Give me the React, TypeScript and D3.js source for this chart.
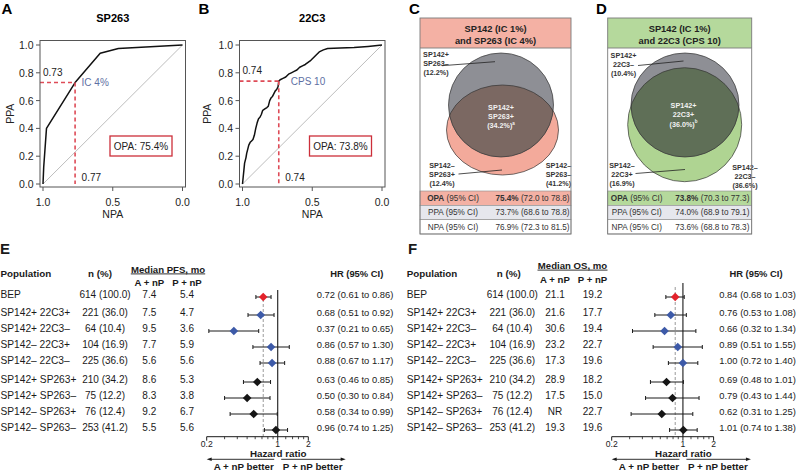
import React from "react";
import * as d3 from "d3";

const FONT = "'Liberation Sans', Arial, Helvetica, sans-serif";

// ---------- ROC data (NPA on x, PPA on y) ----------
const rocA_NPA = [1.0, 0.995, 0.975, 0.77, 0.59, 0.46, 0.0];
const rocA_PPA = [0.0, 0.12, 0.4, 0.73, 0.94, 0.975, 1.0];
const rocB_NPA = [1.0, 0.995, 0.99, 0.985, 0.975, 0.97, 0.96, 0.955, 0.945, 0.935, 0.925, 0.915, 0.905, 0.895, 0.885, 0.875, 0.865, 0.855, 0.84, 0.825, 0.815, 0.805, 0.795, 0.785, 0.775, 0.765, 0.755, 0.745, 0.74, 0.73, 0.71, 0.69, 0.67, 0.65, 0.63, 0.61, 0.59, 0.57, 0.55, 0.53, 0.51, 0.49, 0.47, 0.45, 0.42, 0.39, 0.3, 0.2, 0.1, 0.0];
const rocB_PPA = [0.0, 0.05, 0.1, 0.15, 0.19, 0.22, 0.26, 0.28, 0.3, 0.31, 0.32, 0.35, 0.4, 0.44, 0.47, 0.48, 0.5, 0.53, 0.54, 0.55, 0.56, 0.6, 0.62, 0.63, 0.65, 0.67, 0.68, 0.7, 0.74, 0.75, 0.76, 0.77, 0.79, 0.8, 0.81, 0.82, 0.84, 0.85, 0.86, 0.875, 0.89, 0.91, 0.93, 0.95, 0.965, 0.975, 0.978, 0.982, 0.99, 1.0];
const rocTicksY = [0, 0.2, 0.4, 0.6, 0.8, 1.0];
const rocTicksX = [1.0, 0.5, 0.0];

// ---------- Venn data ----------
const vennCTitle = ["SP142 (IC 1%)", "and SP263 (IC 4%)"];
const vennCRegions = [
  ["SP142+", "SP263–", "(12.2%)"],
  ["SP142+", "SP263+", "(34.2%)"],
  ["SP142–", "SP263+", "(12.4%)"],
  ["SP142–", "SP263–", "(41.2%)"],
];
const vennCStats = [
  ["OPA", "75.4%", "(72.0 to 78.8)"],
  ["PPA", "73.7%", "(68.6 to 78.8)"],
  ["NPA", "76.9%", "(72.3 to 81.5)"],
];
const vennDTitle = ["SP142 (IC 1%)", "and 22C3 (CPS 10)"];
const vennDRegions = [
  ["SP142+", "22C3–", "(10.4%)"],
  ["SP142+", "22C3+", "(36.0%)"],
  ["SP142–", "22C3+", "(16.9%)"],
  ["SP142–", "22C3–", "(36.6%)"],
];
const vennDStats = [
  ["OPA", "73.8%", "(70.3 to 77.3)"],
  ["PPA", "74.0%", "(68.9 to 79.1)"],
  ["NPA", "73.6%", "(68.8 to 78.3)"],
];

// ---------- Forest data ----------
const populations = ["BEP", "SP142+ 22C3+", "SP142+ 22C3–", "SP142– 22C3+", "SP142– 22C3–", "SP142+ SP263+", "SP142+ SP263–", "SP142– SP263+", "SP142– SP263–"];
const nPct = ["614 (100.0)", "221 (36.0)", "64 (10.4)", "104 (16.9)", "225 (36.6)", "210 (34.2)", "75 (12.2)", "76 (12.4)", "253 (41.2)"];
const rowGroup = ["bep", "22c3", "22c3", "22c3", "22c3", "sp263", "sp263", "sp263", "sp263"];
const pfsA = ["7.4", "7.5", "9.5", "7.7", "5.6", "8.6", "8.3", "9.2", "5.5"];
const pfsP = ["5.4", "4.7", "3.6", "5.9", "5.6", "5.3", "3.8", "6.7", "5.6"];
const pfsHR = [0.72, 0.68, 0.37, 0.86, 0.88, 0.63, 0.5, 0.58, 0.96];
const pfsLo = [0.61, 0.51, 0.21, 0.57, 0.67, 0.46, 0.3, 0.34, 0.74];
const pfsHi = [0.86, 0.92, 0.65, 1.3, 1.17, 0.85, 0.84, 0.99, 1.25];
const osA = ["21.1", "21.6", "30.6", "23.2", "17.3", "28.9", "17.5", "NR", "19.3"];
const osP = ["19.2", "17.7", "19.4", "22.7", "19.6", "18.2", "15.0", "22.7", "19.6"];
const osHR = [0.84, 0.76, 0.66, 0.89, 1.0, 0.69, 0.79, 0.62, 1.01];
const osLo = [0.68, 0.53, 0.32, 0.51, 0.72, 0.48, 0.43, 0.31, 0.74];
const osHi = [1.03, 1.08, 1.34, 1.55, 1.4, 1.01, 1.44, 1.25, 1.38];
const hrMajorTicks = [0.2, 1, 2];
const hrMinorTicks = [0.3, 0.4, 0.5, 0.6, 0.7, 0.8, 0.9, 1.2, 1.4, 1.6, 1.8];

const groupColor: Record<string, string> = { bep: "#e3222b", "22c3": "#3d5aa8", sp263: "#151515" };
const DASH_RED = "#de4b57";

function Roc(p: any) {
  const { ox, letter, letterX, title, npa, ppa, cutN, cutP, cutLabel, cutLabelDx, opa, ppaX } = p;
  const x = d3.scaleLinear().domain([1, 0]).range([ox + 3, ox + 142.5]);
  const y = d3.scaleLinear().domain([0, 1]).range([184, 45]);
  const pts: [number, number][] = npa.map((n: number, i: number) => [n, ppa[i]]);
  const line = d3.line<[number, number]>().x((d) => x(d[0])).y((d) => y(d[1]));
  const top = 40.5, bottom = 187, boxW = 145.5;
  const cx = ox + boxW / 2;
  return (
    <g fontFamily={FONT}>
      <text x={letterX} y={14} fontSize={15} fontWeight="bold">{letter}</text>
      <text x={cx} y={22} fontSize={11} fontWeight="bold" textAnchor="middle">{title}</text>
      <line x1={x(1)} y1={y(0)} x2={x(0)} y2={y(1)} stroke="#b5b5b5" strokeWidth={0.9} />
      <path d={line(pts) || ""} fill="none" stroke="#111" strokeWidth={1.5} strokeLinejoin="round" />
      <line x1={ox} y1={y(cutP)} x2={x(cutN)} y2={y(cutP)} stroke={DASH_RED} strokeWidth={1.6} strokeDasharray="4,3" />
      <line x1={x(cutN)} y1={y(cutP)} x2={x(cutN)} y2={y(0)} stroke={DASH_RED} strokeWidth={1.6} strokeDasharray="4,3" />
      <text x={ox + 3} y={y(cutP) - 7} fontSize={10} fill="#222">{cutP.toFixed(2)}</text>
      <text x={x(cutN) + cutLabelDx} y={y(cutP)} fontSize={10} fill="#5e6fa3" dominantBaseline="central">{cutLabel}</text>
      <text x={x(cutN) + 6.5} y={177} fontSize={10} fill="#222" dominantBaseline="central">{cutN.toFixed(2)}</text>
      <rect x={ox + 70} y={136} width={62} height={20} fill="white" stroke="#cc2f3a" strokeWidth={1.3} />
      <text x={ox + 101} y={146.5} fontSize={10} textAnchor="middle" dominantBaseline="central" fill="#222">{opa}</text>
      <rect x={ox} y={top} width={boxW} height={bottom - top} fill="none" stroke="#555" strokeWidth={1} />
      {rocTicksY.map((t) => (
        <g key={"y" + t}>
          <line x1={ox - 4} x2={ox} y1={y(t)} y2={y(t)} stroke="#555" />
          <text x={ox - 6.5} y={y(t)} fontSize={10.5} textAnchor="end" dominantBaseline="central" fill="#222">{t.toFixed(1)}</text>
        </g>
      ))}
      {rocTicksX.map((t) => (
        <g key={"x" + t}>
          <line x1={x(t)} x2={x(t)} y1={bottom} y2={bottom + 4} stroke="#555" />
          <text x={x(t)} y={201.5} fontSize={10.5} textAnchor="middle" dominantBaseline="central" fill="#222">{t.toFixed(1)}</text>
        </g>
      ))}
      <text transform={`translate(${ppaX},${(top + bottom) / 2}) rotate(-90)`} fontSize={10.5} textAnchor="middle" dominantBaseline="central" fill="#222">PPA</text>
      <text x={cx} y={214} fontSize={10.5} textAnchor="middle" dominantBaseline="central" fill="#222">NPA</text>
    </g>
  );
}

function Venn(p: any) {
  const { id, letter, letterX, bx, bw, titleLines, headColor, regions, stats, g, c, colFill, overlapFill, sup, labelPos, leaders, colX } = p;
  const top = 18, headB = 48, vennB = 191, rowH = 14.33;
  const grayFill = "#8e8f95";
  return (
    <g fontFamily={FONT}>
      <defs>
        <clipPath id={id + "clip"}>
          <ellipse cx={c.cx} cy={c.cy} rx={c.rx} ry={c.ry} />
        </clipPath>
      </defs>
      <text x={letterX} y={14} fontSize={15} fontWeight="bold">{letter}</text>
      <rect x={bx} y={top} width={bw} height={headB - top} fill={headColor} />
      {titleLines.map((t: string, i: number) => (
        <text key={i} x={bx + bw / 2} y={28.5 + i * 12} fontSize={9.3} fontWeight="bold" textAnchor="middle" dominantBaseline="central" fill="#222">{t}</text>
      ))}
      <ellipse cx={c.cx} cy={c.cy} rx={c.rx} ry={c.ry} fill={colFill} />
      <ellipse cx={g.cx} cy={g.cy} rx={g.rx} ry={g.ry} fill={grayFill} />
      <ellipse cx={g.cx} cy={g.cy} rx={g.rx} ry={g.ry} fill={overlapFill} clipPath={`url(#${id}clip)`} />
      <ellipse cx={c.cx} cy={c.cy} rx={c.rx} ry={c.ry} fill="none" stroke="#333" strokeWidth={0.7} />
      <ellipse cx={g.cx} cy={g.cy} rx={g.rx} ry={g.ry} fill="none" stroke="#333" strokeWidth={0.7} />
      {leaders.map((l: number[], i: number) => (
        <line key={i} x1={l[0]} y1={l[1]} x2={l[2]} y2={l[3]} stroke="#222" strokeWidth={0.8} />
      ))}
      {regions.map((r: string[], i: number) => (
        <text key={i} fontSize={7.2} fontWeight="bold" textAnchor="middle" fill={i === 1 ? "#f2f2f2" : "#333"}>
          {r.map((s, j) => (
            <tspan key={j} x={labelPos[i][0]} y={labelPos[i][1] + j * 9.3} dominantBaseline="central">
              {s}
              {i === 1 && j === 2 ? <tspan fontSize={4.5} dy={-2.5}>{sup}</tspan> : null}
            </tspan>
          ))}
        </text>
      ))}
      {stats.map((s: string[], i: number) => {
        const y0 = vennB + i * rowH;
        const fill = i === 0 ? headColor : i === 1 ? "#e6e7ed" : "white";
        return (
          <g key={i}>
            <rect x={bx} y={y0} width={bw} height={rowH} fill={fill} stroke="#8a8a8a" strokeWidth={0.6} />
            <text x={colX[0]} y={y0 + rowH / 2} fontSize={8.2} textAnchor="middle" dominantBaseline="central" fill="#333">
              <tspan fontWeight={i === 0 ? "bold" : "normal"}>{s[0]}</tspan>
              <tspan> (95% CI)</tspan>
            </text>
            <text x={colX[1]} y={y0 + rowH / 2} fontSize={8.2} textAnchor="middle" dominantBaseline="central" fill="#333">
              <tspan fontWeight={i === 0 ? "bold" : "normal"}>{s[1]}</tspan>
              <tspan> {s[2]}</tspan>
            </text>
          </g>
        );
      })}
      <rect x={bx} y={top} width={bw} height={vennB + 3 * rowH - top} fill="none" stroke="#7a7a7a" strokeWidth={0.9} />
      <line x1={bx} x2={bx + bw} y1={headB} y2={headB} stroke="#7a7a7a" strokeWidth={0.9} />
    </g>
  );
}

function rowY(i: number) {
  return 296 + i * 16 + (i >= 1 ? 2 : 0) + (i >= 5 ? 3 : 0);
}

function Forest(p: any) {
  const { letter, letterX, popX, nHeadX, nX, medTitle, medCx, medHalfW, medY, subY, aX, pX, hrTextX, hrHeadX, range, hr, lo, hi, aVals, pVals, vTop } = p;
  const x = d3.scaleLog().domain([0.2, 2]).range(range);
  const axisY = 436.7;
  const x1 = x(1);
  const ref = x(hr[0]);
  const fmt = (v: number) => v.toFixed(2);
  const arrowY = 459.3;
  return (
    <g fontFamily={FONT} fill="#1a1a1a">
      <text x={letterX} y={254} fontSize={15} fontWeight="bold">{letter}</text>
      <text x={popX} y={273.5} fontSize={9.8} fontWeight="bold" dominantBaseline="central">Population</text>
      <text x={nHeadX} y={273.5} fontSize={9.8} fontWeight="bold" textAnchor="middle" dominantBaseline="central">n (%)</text>
      <text x={medCx} y={medY} fontSize={9.6} fontWeight="bold" textAnchor="middle" dominantBaseline="central">{medTitle}</text>
      <line x1={medCx - medHalfW} x2={medCx + medHalfW} y1={medY + 4.6} y2={medY + 4.6} stroke="#1a1a1a" strokeWidth={0.9} />
      <text x={aX} y={subY} fontSize={9.6} fontWeight="bold" textAnchor="middle" dominantBaseline="central">A + nP</text>
      <text x={pX} y={subY} fontSize={9.6} fontWeight="bold" textAnchor="middle" dominantBaseline="central">P + nP</text>
      <text x={hrHeadX} y={273.5} fontSize={9.4} fontWeight="bold" textAnchor="middle" dominantBaseline="central">HR (95% CI)</text>
      {populations.map((pop, i) => {
        const y = rowY(i);
        const ty = y - 1.3;
        return (
          <g key={i}>
            <text x={popX} y={ty} fontSize={10.2} dominantBaseline="central">{pop}</text>
            <text x={nX} y={ty} fontSize={10} textAnchor="middle" dominantBaseline="central">{nPct[i]}</text>
            <text x={aX} y={ty} fontSize={10} textAnchor="middle" dominantBaseline="central">{aVals[i]}</text>
            <text x={pX} y={ty} fontSize={10} textAnchor="middle" dominantBaseline="central">{pVals[i]}</text>
            <text x={hrTextX} y={ty} fontSize={9.4} dominantBaseline="central">{`${fmt(hr[i])} (${fmt(lo[i])} to ${fmt(hi[i])})`}</text>
          </g>
        );
      })}
      <line x1={ref} x2={ref} y1={vTop + 4} y2={axisY} stroke="#9a9a9a" strokeWidth={1} strokeDasharray="3,2" />
      <line x1={x1} x2={x1} y1={vTop} y2={axisY} stroke="#1a1a1a" strokeWidth={1.1} />
      {populations.map((_, i) => {
        const y = rowY(i) + 1;
        const col = groupColor[rowGroup[i]];
        const cx = x(hr[i]);
        return (
          <g key={"m" + i}>
            <line x1={x(lo[i])} x2={x(hi[i])} y1={y} y2={y} stroke="#1a1a1a" strokeWidth={1} />
            <line x1={x(lo[i])} x2={x(lo[i])} y1={y - 2} y2={y + 2} stroke="#1a1a1a" strokeWidth={1} />
            <line x1={x(hi[i])} x2={x(hi[i])} y1={y - 2} y2={y + 2} stroke="#1a1a1a" strokeWidth={1} />
            <path d={`M${cx},${y - 4.3}L${cx + 4.3},${y}L${cx},${y + 4.3}L${cx - 4.3},${y}Z`} fill={col} />
          </g>
        );
      })}
      <line x1={x(0.2)} x2={x(2)} y1={axisY} y2={axisY} stroke="#1a1a1a" strokeWidth={1} />
      {hrMajorTicks.map((t) => (
        <g key={"t" + t}>
          <line x1={x(t)} x2={x(t)} y1={axisY} y2={axisY + 4} stroke="#1a1a1a" />
          <text x={x(t)} y={444} fontSize={8.6} textAnchor="middle" dominantBaseline="central">{String(t)}</text>
        </g>
      ))}
      {hrMinorTicks.map((t) => (
        <line key={"mt" + t} x1={x(t)} x2={x(t)} y1={axisY} y2={axisY + 2.5} stroke="#1a1a1a" strokeWidth={0.8} />
      ))}
      <text x={x1 + 0.5} y={453.2} fontSize={9.8} fontWeight="bold" textAnchor="middle" dominantBaseline="central">Hazard ratio</text>
      <line x1={x1 - 3.5} x2={x(0.2) + 4} y1={arrowY} y2={arrowY} stroke="#1a1a1a" strokeWidth={0.9} />
      <path d={`M${x(0.2)},${arrowY}L${x(0.2) + 5},${arrowY - 1.8}L${x(0.2) + 5},${arrowY + 1.8}Z`} fill="#1a1a1a" />
      <line x1={x1 + 3.5} x2={x1 + 64} y1={arrowY} y2={arrowY} stroke="#1a1a1a" strokeWidth={0.9} />
      <path d={`M${x1 + 68},${arrowY}L${x1 + 63},${arrowY - 1.8}L${x1 + 63},${arrowY + 1.8}Z`} fill="#1a1a1a" />
      <text x={x1 - 34} y={466} fontSize={9.8} fontWeight="bold" textAnchor="middle" dominantBaseline="central">A + nP better</text>
      <text x={x1 + 35} y={466} fontSize={9.8} fontWeight="bold" textAnchor="middle" dominantBaseline="central">P + nP better</text>
    </g>
  );
}

export default function App() {
  return (
    <svg width={799} height={470} viewBox="0 0 799 470" style={{ position: "absolute", left: 0, top: 0, background: "white" }}>
      <rect x={0} y={0} width={799} height={470} fill="white" />
      <Roc ox={40} letter="A" letterX={1.5} title="SP263" npa={rocA_NPA} ppa={rocA_PPA} cutN={0.77} cutP={0.73} cutLabel="IC 4%" cutLabelDx={6.5} opa="OPA: 75.4%" ppaX={10} />
      <Roc ox={239.5} letter="B" letterX={198.5} title="22C3" npa={rocB_NPA} ppa={rocB_PPA} cutN={0.74} cutP={0.74} cutLabel="CPS 10" cutLabelDx={12} opa="OPA: 73.8%" ppaX={207} />
      <Venn id="vc" letter="C" letterX={409} bx={420} bw={151} titleLines={vennCTitle} headColor="#f4b1a4" regions={vennCRegions} stats={vennCStats}
        g={{ cx: 501, cy: 105, rx: 52.5, ry: 52 }} c={{ cx: 502.5, cy: 130, rx: 56, ry: 45 }} colFill="#f3aa9b" overlapFill="#7b6862" sup="a"
        labelPos={[[436, 54], [501, 107], [442, 165], [558.5, 165]]}
        leaders={[[442, 65.7, 495, 61.7], [458.5, 174, 502, 170]]}
        colX={[453, 532.5]} />
      <Venn id="vd" letter="D" letterX={596} bx={607.7} bw={144} titleLines={vennDTitle} headColor="#b5d99c" regions={vennDRegions} stats={vennDStats}
        g={{ cx: 685, cy: 105, rx: 54, ry: 52 }} c={{ cx: 684.7, cy: 124.7, rx: 57, ry: 57 }} colFill="#afd492" overlapFill="#5f6f57" sup="b"
        labelPos={[[623.5, 55], [683.5, 105.5], [622, 165], [745, 167]]}
        leaders={[[638, 65.5, 683.5, 61], [635.5, 173.5, 685, 169.5]]}
        colX={[636.7, 712.3]} />
      <Forest letter="E" letterX={0} popX={0.5} nHeadX={100} nX={105} medTitle="Median PFS, mo" medCx={168} medHalfW={37.2} medY={269.3} subY={282.7}
        aX={149.3} pX={187} hrTextX={316.7} hrHeadX={356.7} range={[206.7, 308.3]} hr={pfsHR} lo={pfsLo} hi={pfsHi} aVals={pfsA} pVals={pfsP} vTop={290} />
      <Forest letter="F" letterX={408} popX={406.7} nHeadX={508.7} nX={512.3} medTitle="Median OS, mo" medCx={572.5} medHalfW={35} medY={265.5} subY={279.3}
        aX={555} pX={592.5} hrTextX={719.3} hrHeadX={756} range={[611.7, 713.6]} hr={osHR} lo={osLo} hi={osHi} aVals={osA} pVals={osP} vTop={283} />
    </svg>
  );
}
